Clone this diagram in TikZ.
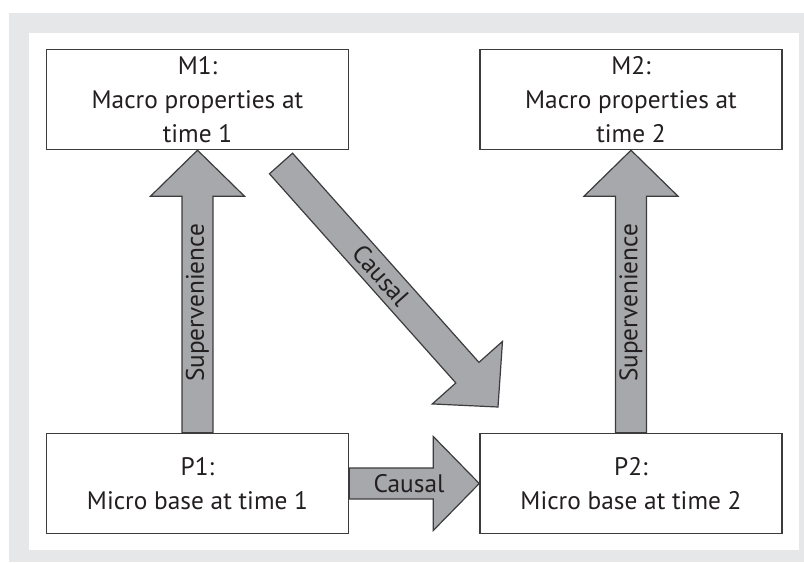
\documentclass[tikz,border=0pt]{standalone}
\usepackage{fontspec}
\setmainfont{PT Sans}
\usetikzlibrary{calc}
\definecolor{panelgray}{HTML}{E6E7E8}
\definecolor{arrowgray}{HTML}{A7A8AB}
\definecolor{edgegray}{HTML}{3C3C3E}
\definecolor{inkdark}{HTML}{231F20}

% block arrow from #1 to #2 with label #3
\newcommand\bigarrow[3]{%
  \coordinate (hb) at ($(#2)!34.5pt!(#1)$);
  \draw[blockarrow] ($(#1)!11.6pt!90:(#2)$) -- ($(hb)!11.6pt!90:(#2)$) -- ($(hb)!35.25pt!90:(#2)$)
    -- (#2) -- ($(hb)!35.25pt!-90:(#2)$) -- ($(hb)!11.6pt!-90:(#2)$) -- ($(#1)!11.6pt!-90:(#2)$) -- cycle;
  \path (#1) -- (#2) node[pos=0.46, sloped, arrowlabel] {#3};
}

\begin{document}
\begin{tikzpicture}[x=0.75pt,y=-0.75pt,
  levelbox/.style={draw=edgegray, fill=white, line width=1.1pt, minimum width=226.5pt, minimum height=75pt,
    inner sep=0pt, align=center, text=inkdark, font=\fontsize{19}{25.5}\selectfont},
  blockarrow/.style={fill=arrowgray, draw=edgegray, line width=0.9pt, line join=miter},
  arrowlabel/.style={inner sep=0pt, text=inkdark, font=\fontsize{19}{25.5}\selectfont}]
\useasboundingbox (0,0) rectangle (804,562);
\fill[panelgray] (9,13) rectangle (804,562);
\fill[white] (29,33) rectangle (799,550);

% the four levels
\node[levelbox] (m1) at (197.5,99.5) {M1:\\Macro properties at\\time 1};
\node[levelbox] (m2) at (631,99.5) {M2:\\Macro properties at\\time 2};
\node[levelbox] (p1) at (197.5,483.5) {P1:\\Micro base at time 1};
\node[levelbox] (p2) at (631,483.5) {P2:\\Micro base at time 2};

% free ends of the diagonal arrow
\coordinate (dtail) at (281,163.5);
\coordinate (dtip) at (498,407);

\bigarrow{p1.north}{m1.south}{Supervenience}
\bigarrow{p2.north}{m2.south}{Supervenience}
\bigarrow{p1.east}{p2.west}{Causal}
\bigarrow{dtail}{dtip}{Causal}
\end{tikzpicture}
\end{document}
